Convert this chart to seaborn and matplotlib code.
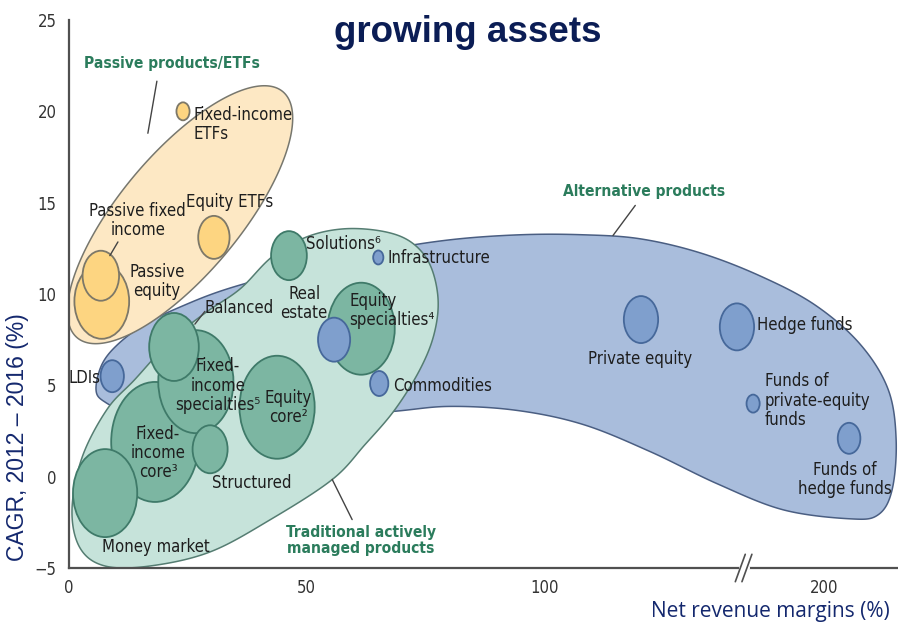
import numpy as np
import pandas as pd
import matplotlib
matplotlib.use("Agg")
import matplotlib.pyplot as plt
from matplotlib.path import Path
from matplotlib.transforms import Affine2D
from matplotlib.patches import Polygon
from matplotlib.ticker import FixedLocator, NullLocator
import seaborn as sns

# --- datos ---
products = ["Money market", "Fixed-income core", "Fixed-income specialties", "Equity core",
            "Balanced", "Structured", "Solutions", "Equity specialties",
            "Passive equity", "Passive fixed income", "Equity ETFs", "Fixed-income ETFs",
            "LDIs", "Real estate", "Infrastructure", "Commodities",
            "Private equity", "Hedge funds", "Funds of private-equity funds", "Funds of hedge funds"]
group = ["Traditional"] * 8 + ["Passive"] * 4 + ["Alternative"] * 8
margin = [7.6, 18.1, 26.7, 43.8, 22.1, 29.7, 46.3, 61.5,
          6.9, 6.7, 30.5, 24.0,
          9.1, 55.8, 65.1, 65.3, 120.4, 140.6, 185.1, 205.3]
cagr = [-0.9, 1.9, 5.2, 3.8, 7.1, 1.5, 12.1, 8.1,
        9.6, 11.0, 13.1, 20.0,
        5.5, 7.5, 12.0, 5.1, 8.6, 8.2, 4.0, 2.1]
assets = [88, 120, 103, 103, 68, 48, 49, 92,
          75, 50, 43, 18,
          32, 44, 14, 25, 47, 47, 18, 31]

label_text = ["Money market", "Fixed-\nincome\ncore\u00b3", "Fixed-\nincome\nspecialties\u2075",
              "Equity\ncore\u00b2", "Balanced", "Structured", "Solutions\u2076",
              "Equity\nspecialties\u2074", "Passive\nequity", "Passive fixed\nincome",
              "Equity ETFs", "Fixed-income\nETFs", "LDIs", "Real\nestate", "Infrastructure",
              "Commodities", "Private equity", "Hedge funds", "Funds of\nprivate-equity\nfunds",
              "Funds of\nhedge funds"]
x_ticks = [0, 50, 100, 200]
y_ticks = [-5, 0, 5, 10, 15, 20, 25]

# layout de etiquetas (offset en pixeles, alineacion)
label_off = [(51, -54, "center"), (3, -11, "center"), (22, -4, "center"), (11, 0, "center"),
             (65, 39, "center"), (42, -34, "center"), (17, 12, "left"), (-12, 18, "left"),
             (55, 20, "center"), (37, 55, "center"), (16, 35, "center"), (10, -13, "left"),
             (-12, -2, "right"), (-30, 36, "center"), (9, -1, "left"), (14, -2, "left"),
             (-1, -39, "center"), (20, 2, "left"), (12, 3, "left"), (-4, -41, "center")]

df = pd.DataFrame({"product": products, "group": group, "margin": margin,
                   "cagr": cagr, "assets": assets})

# --- eje x con corte (//) entre ~142 y ~183 ---
BRK, GAP = 142.0, 41.1


def fwd(x):
    x = np.asarray(x, float)
    return np.where(x <= BRK, x, np.where(x >= BRK + GAP, x - GAP, BRK))


def inv(x):
    x = np.asarray(x, float)
    return np.where(x <= BRK, x, x + GAP)


PX_X, PX_Y = 4.75, 18.2  # pixeles por unidad (aprox.) para las formas


def px2data(px, py):
    xs = (np.asarray(px, float) - 69) / PX_X
    return inv(xs), (568 - np.asarray(py, float)) / PX_Y - 5


def smooth_closed(px, py, n=24):
    # Catmull-Rom cerrado
    P = np.column_stack([px, py]).astype(float)
    m = len(P)
    t = np.linspace(0, 1, n, endpoint=False)[:, None]
    out = []
    for i in range(m):
        p0, p1, p2, p3 = P[i - 1], P[i], P[(i + 1) % m], P[(i + 2) % m]
        out.append(0.5 * (2 * p1 + (-p0 + p2) * t + (2 * p0 - 5 * p1 + 4 * p2 - p3) * t ** 2
                          + (-p0 + 3 * p1 - 3 * p2 + p3) * t ** 3))
    return np.vstack(out)


sns.set_style("white")
plt.rcParams["font.family"] = ["DejaVu Sans"]
plt.rcParams["font.stretch"] = "condensed"
FS = 12

fig = plt.figure(figsize=(8.98, 6.22), dpi=100)
ax = fig.add_axes([69 / 898, 54 / 622, 829 / 898, 548 / 622])
ax.set_xscale("function", functions=(fwd, inv))
ax.set_xlim(0, 215.6)
ax.set_ylim(-5, 25)

# --- envolventes ---
blue_px = [96, 102, 118, 145, 180, 227, 300, 380, 450, 520, 583, 640, 700, 760, 815, 860, 888,
           896, 892, 878, 850, 783, 717, 650, 583, 517, 450, 393, 300, 200, 130, 104]
blue_py = [390, 365, 345, 325, 308, 290, 270, 252, 241, 236, 236, 240, 254, 277, 306, 345, 390,
           440, 490, 515, 519, 510, 484, 452, 425, 411, 407, 412, 420, 420, 412, 402]
teal_px = [72, 82, 107, 135, 170, 205, 240, 272, 307, 345, 385, 412, 430, 438, 434, 420, 395,
           365, 332, 270, 210, 150, 105, 80]
teal_py = [510, 458, 410, 380, 342, 314, 290, 258, 238, 230, 233, 244, 266, 300, 335, 370, 410,
           445, 480, 520, 552, 566, 566, 548]

for bx, by, fc, ec, z in [(blue_px, blue_py, "#a9bddc", "#4a5e82", 1.0),
                          (teal_px, teal_py, "#c6e3da", "#557d72", 1.1)]:
    pts = smooth_closed(bx, by)
    dx, dy = px2data(pts[:, 0], pts[:, 1])
    ax.add_patch(Polygon(np.column_stack([dx, dy]), closed=True, facecolor=fc,
                         edgecolor=ec, linewidth=1.1, zorder=z))

# elipse amarilla (productos pasivos)
t = np.linspace(0, 2 * np.pi, 300)
th = np.deg2rad(50)
ex = 180 + 160 * np.cos(th) * np.cos(t) - 60 * np.sin(th) * np.sin(t)
ey = 216 - (160 * np.sin(th) * np.cos(t) + 60 * np.cos(th) * np.sin(t))
dx, dy = px2data(ex, ey)
ax.add_patch(Polygon(np.column_stack([dx, dy]), closed=True, facecolor="#fde8c4",
                     edgecolor="#77776e", linewidth=1.1, zorder=1.2))

# --- burbujas (elipses verticales) ---
ell = Path.unit_circle().transformed(Affine2D().scale(1, 1.37))
styles = {"Traditional": ("#7cb6a2", "#3f7a69"),
          "Passive": ("#fdd581", "#7d7868"),
          "Alternative": ("#7f9fcd", "#46689a")}
for g in ["Traditional", "Passive", "Alternative"]:
    sub = df[df["group"] == g].sort_values("assets", ascending=False)
    sns.scatterplot(data=sub, x="margin", y="cagr", ax=ax, marker=ell,
                    s=(sub["assets"].to_numpy() * 0.72) ** 2,
                    color=styles[g][0], edgecolor=styles[g][1], linewidth=1.3,
                    legend=False, zorder=3)

# --- etiquetas ---
for i, txt in enumerate(label_text):
    ox, oy, ha = label_off[i]
    ax.annotate(txt, (margin[i], cagr[i]), xytext=(ox, oy),
                textcoords="offset pixels", ha=ha, va="center", fontsize=FS,
                color="#1e1e1e", linespacing=1.1, zorder=5)

green = "#2b7c5c"
groups_lbl = [("Passive products/ETFs", (21.7, 22.6), (18.5, 21.65), (16.6, 18.8)),
              ("Alternative products", (121.1, 15.6), (119.2, 14.85), (114.5, 13.2)),
              ("Traditional actively\nmanaged products", (61.5, -3.5), (59.6, -2.35), (55.4, -0.15))]
for txt, pos, p0, p1 in groups_lbl:
    ax.text(pos[0], pos[1], txt, ha="center", va="center", fontsize=11.2,
            fontweight="bold", color=green, linespacing=1.1, zorder=5)
    ax.plot([p0[0], p1[0]], [p0[1], p1[1]], color="#444444", lw=1.0, zorder=5)

# lineas guia pequenas
ax.plot([10.3, 8.6], [12.85, 12.1], color="#444444", lw=1.0, zorder=5)
ax.plot([28.6, 26.5], [9.05, 8.35], color="#444444", lw=1.0, zorder=5)

# --- ejes ---
for s in ["top", "right"]:
    ax.spines[s].set_visible(False)
for s in ["left", "bottom"]:
    ax.spines[s].set_color("#505050")
    ax.spines[s].set_linewidth(1.6)
ax.xaxis.set_major_locator(FixedLocator(x_ticks))
ax.xaxis.set_minor_locator(NullLocator())
ax.set_yticks(y_ticks)
ax.tick_params(length=0, labelsize=12, labelcolor="#333333")
ax.tick_params(axis="y", pad=9)
ax.tick_params(axis="x", pad=8)
ax.set_xlabel("")
ax.set_ylabel("")

# marca de corte //
xb = float(fwd(BRK)) / float(fwd(215.6))
ax.plot([xb - 0.003, xb + 0.005], [0, 0], transform=ax.transAxes, color="white",
        lw=3, clip_on=False, zorder=6)
for off in (-0.004, 0.004):
    ax.plot([xb + off - 0.006, xb + off + 0.006], [-0.025, 0.025], transform=ax.transAxes,
            color="#505050", lw=1.2, clip_on=False, zorder=7)

navy = "#14286e"
fig.text(468 / 898, 1 - 42 / 622, "growing assets", ha="center", va="baseline",
         fontsize=26.5, fontweight="bold", color="#0b1d55",
         family=["Liberation Sans", "DejaVu Sans"], fontstretch="normal")
fig.text(18 / 898, 1 - 437 / 622, "CAGR, 2012 \u2013 2016 (%)", rotation=90, ha="center",
         va="center", fontsize=16.5, color=navy,
         family=["Liberation Sans", "DejaVu Sans"], fontstretch="normal")
fig.text(890 / 898, 1 - 611 / 622, "Net revenue margins (%)", ha="right", va="center",
         fontsize=15, color=navy, family=["Open Sans", "DejaVu Sans"], fontstretch="normal")

fig.savefig("out.png", dpi=100)
